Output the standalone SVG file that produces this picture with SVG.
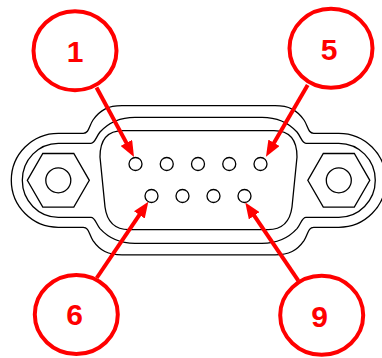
<svg xmlns="http://www.w3.org/2000/svg" width="382" height="358" viewBox="0 0 382 358">
<style>
.ol{fill:none;stroke:#000;stroke-width:1.3}
.pin{fill:#fff;stroke:#000;stroke-width:1.3}
.call{fill:#fff;stroke:#ff0000;stroke-width:4}
.lbl{font-family:"Liberation Sans",Arial,sans-serif;font-weight:bold;font-size:30px;fill:#ff0000;text-anchor:middle}
.ar{stroke:#ff0000;stroke-width:4;fill:none;marker-end:url(#ah)}
</style>
<defs>
<marker id="ah" markerUnits="userSpaceOnUse" markerWidth="16" markerHeight="13" refX="4" refY="6.5" orient="auto" viewBox="0 0 16 13">
<path d="M0,0 L16,6.5 L0,13 Z" fill="#ff0000"/>
</marker>
</defs>
<rect width="382" height="358" fill="#fff"/>
<g id="connector">
<path class="ol" d="M83.3 133.3 H58.3 A47 47 0 0 0 58.3 227.3 H83.3 C89 227.3 89 234.6 93 240.6 C100 250.6 108 254.9 122 254.9 H275 C289 254.9 297 250.6 304 240.6 C308 234.6 308 227.3 313.7 227.3 H338.8 A47 47 0 0 0 338.8 133.3 H313.7 C308 133.3 308 126 304 120 C297 110 289 105.7 275 105.7 H122 C108 105.7 100 110 93 120 C89 126 89 133.3 83.3 133.3 Z"/>
<path class="ol" d="M91 143.3 H58.3 A36 37 0 0 0 58.3 217.3 H91 C95 217.3 96 223.6 100 228.6 C105 234.1 115 243.3 135 243.3 H262 C282 243.3 292 234.1 297 228.6 C301 223.6 302 217.3 306 217.3 H338.8 A36.5 37 0 0 0 338.8 143.3 H306 C302 143.3 301 137 297 132 C292 126.5 282 117.3 262 117.3 H135 C115 117.3 105 126.5 100 132 C96 137 95 143.3 91 143.3 Z"/>
<path class="ol" d="M123 130.7 H274 C290 130.7 297 140 297 157 L292 207 C290 222 282 229.6 268 229.6 H129 C115 229.6 107 222 105 207 L100 157 C100 140 107 130.7 123 130.7 Z"/>
<polygon class="ol" points="27.3,180.3 42.8,153.5 73.8,153.5 89.3,180.3 73.8,207.1 42.8,207.1"/>
<circle class="ol" cx="58.3" cy="180.3" r="12.5"/>
<polygon class="ol" points="307.8,180.3 323.3,153.5 354.3,153.5 369.8,180.3 354.3,207.1 323.3,207.1"/>
<circle class="ol" cx="338.8" cy="180.3" r="12.5"/>
</g>
<g id="pins">
<circle class="pin" cx="135.5" cy="164" r="6.5"/>
<circle class="pin" cx="166.75" cy="164" r="6.5"/>
<circle class="pin" cx="198" cy="164" r="6.5"/>
<circle class="pin" cx="229.25" cy="164" r="6.5"/>
<circle class="pin" cx="260.5" cy="164" r="6.5"/>
<circle class="pin" cx="151.5" cy="196" r="6.5"/>
<circle class="pin" cx="182.5" cy="196" r="6.5"/>
<circle class="pin" cx="213.5" cy="196" r="6.5"/>
<circle class="pin" cx="244.5" cy="196" r="6.5"/>
</g>
<g id="connectors">
<line class="ar" x1="96.5" y1="87.5" x2="128.3" y2="146.4"/>
<line class="ar" x1="307.7" y1="85" x2="272.0" y2="146.3"/>
<line class="ar" x1="96.7" y1="278" x2="141.6" y2="211.6"/>
<line class="ar" x1="298.3" y1="280.7" x2="252.0" y2="212.4"/>
</g>
<g id="callout1">
<ellipse class="call" cx="75" cy="50.7" rx="41.5" ry="39.5"/>
<text class="lbl" x="75" y="62">1</text>
</g>
<g id="callout5">
<ellipse class="call" cx="331" cy="48.3" rx="41.5" ry="39.5"/>
<text class="lbl" x="329" y="60">5</text>
</g>
<g id="callout6">
<ellipse class="call" cx="76.3" cy="314.5" rx="41.5" ry="39.5"/>
<text class="lbl" x="74.5" y="325">6</text>
</g>
<g id="callout9">
<ellipse class="call" cx="321.7" cy="315.3" rx="41.5" ry="39.5"/>
<text class="lbl" x="319.5" y="327">9</text>
</g>
</svg>
